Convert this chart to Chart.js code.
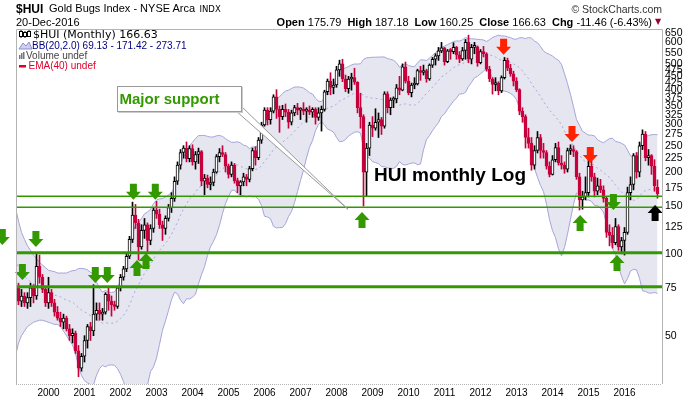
<!DOCTYPE html>
<html lang="en">
<head>
  <meta charset="UTF-8">
  <title>$HUI Gold Bugs Index - Monthly</title>
  <script src="https://cdn.jsdelivr.net/npm/chart.js"></script>
  <style>
    body { margin: 0; background: #fff; }
    #wrap { position: relative; width: 700px; height: 400px; overflow: hidden;
            font-family: "Liberation Sans", Arial, sans-serif; color: #000; }
    #wrap canvas { position: absolute; left: 0; top: 0; }
    .txt { position: absolute; white-space: nowrap; line-height: 1; }
    .b { font-weight: bold; }
    .grp { margin-left: 6px; }
    #supportBox { position: absolute; left: 117px; top: 86px; width: 123px; height: 24px;
                  background: #fff; border: 1px solid #999; box-shadow: 1px 1px 0 #ccc; }
  </style>
</head>
<body>
<div id="wrap">
  <canvas id="hui" width="700" height="400"></canvas>

  <div class="txt b" style="left:16px; top:2.5px; font-size:12px;">$HUI</div>
  <div class="txt" style="left:49px; top:3.2px; font-size:11px;">Gold Bugs Index - NYSE Arca</div>
  <div class="txt" style="left:199.5px; top:5.3px; font-size:8.5px; font-family:'DejaVu Sans';">INDX</div>
  <div class="txt" style="right:38px; top:3.8px; font-size:10.5px; color:#333;">&copy; StockCharts.com</div>
  <div class="txt" style="left:16px; top:16.7px; font-size:11px;">20-Dec-2016</div>
  <div class="txt" style="right:48px; top:16.7px; font-size:11px;"><span class="b">Open</span> 175.79<span class="grp"><span class="b">High</span> 187.18</span><span class="grp"><span class="b">Low</span> 160.25</span><span class="grp"><span class="b">Close</span> 166.63</span><span class="grp"><span class="b">Chg</span> -11.46 (-6.43%)</span></div>
  <div class="txt" style="left:655px; top:18px; font-size:8px; color:#990033; font-family:'DejaVu Sans';">&#9660;</div>

  <div class="txt" style="left:33px; top:29px; font-size:11px; font-family:'DejaVu Sans';">$HUI (Monthly) 166.63</div>
  <div class="txt" style="left:32px; top:40.8px; font-size:10px; color:#000080;">BB(20,2.0) 69.13 - 171.42 - 273.71</div>
  <div class="txt" style="left:26px; top:50.8px; font-size:10px; color:#444;">Volume undef</div>
  <div class="txt" style="left:28.5px; top:61.3px; font-size:10px; color:#e0002a;">EMA(40) undef</div>

  <div id="supportBox"></div>
  <div class="txt b" style="left:119.5px; top:91.3px; font-size:15px; color:#339900;">Major support</div>
  <div class="txt b" style="left:374px; top:164.9px; font-size:19px;">HUI monthly Log</div>
</div>

<script>
  // monthly candles, Feb 1999 .. Dec 2016 (x = months since Jan 1999)
  const opens = [
    67, 76, 67, 70, 66, 69, 75, 70, 90, 82, 74,
    66, 72, 66, 61, 58, 56, 58, 53, 50, 51, 44, 38,
    42, 48, 54, 52, 60, 62, 60, 61, 71, 67, 65, 64,
    75, 82, 88, 98, 113, 139, 130, 106, 122, 128, 112, 124,
    145, 140, 128, 124, 135, 148, 160, 185, 212, 236, 245, 224,
    244, 218, 232, 238, 185, 190, 180, 183, 200, 228, 236, 232,
    210, 196, 212, 186, 178, 184, 192, 188, 206, 240, 226, 262,
    298, 338, 312, 335, 378, 340, 320, 340, 332, 305, 330, 345,
    338, 340, 335, 338, 332, 340, 318, 330, 340, 395, 432, 410,
    418, 475, 500, 440, 405, 440, 445, 428, 345, 320, 200, 245,
    298, 290, 305, 312, 295, 388, 345, 368, 372, 408, 400, 488,
    432, 392, 418, 422, 472, 465, 472, 440, 495, 520, 535, 558,
    573, 510, 558, 555, 575, 540, 522, 560, 600, 520, 575, 578,
    505, 555, 545, 478, 440, 420, 425, 398, 445, 515, 482, 460,
    432, 402, 335, 320, 268, 255, 212, 240, 268, 240, 236, 210,
    196, 222, 246, 216, 212, 205, 240, 242, 238, 192, 158, 162,
    168, 210, 192, 170, 178, 172, 160, 120, 117, 110, 126, 106,
    112, 120, 168, 180, 230, 200, 250, 276, 226, 230, 210, 175.79
  ];
  const highs = [
    78, 78, 74, 72, 72, 78, 77, 101, 99, 84, 76,
    82, 74, 68, 64, 61, 60, 59, 55, 53, 52, 46, 43,
    50, 55, 56, 77, 66, 66, 63, 72, 76, 70, 67, 76,
    84, 90, 100, 116, 155, 152, 134, 128, 135, 130, 128, 148,
    156, 146, 132, 138, 152, 168, 192, 218, 242, 250, 258, 250,
    252, 238, 245, 240, 196, 195, 192, 205, 232, 244, 250, 236,
    214, 218, 215, 190, 186, 198, 196, 210, 245, 248, 268, 305,
    345, 345, 345, 385, 402, 350, 352, 356, 340, 338, 352, 358,
    345, 360, 345, 350, 345, 345, 345, 350, 400, 440, 464, 440,
    490, 516, 520, 455, 450, 462, 482, 430, 390, 325, 255, 305,
    320, 342, 330, 318, 395, 395, 375, 378, 420, 450, 500, 508,
    450, 425, 445, 478, 490, 495, 478, 500, 528, 545, 575, 600,
    575, 565, 570, 598, 580, 555, 575, 615, 638, 590, 600, 582,
    565, 580, 550, 490, 445, 445, 430, 452, 528, 525, 498, 470,
    445, 405, 345, 325, 290, 268, 250, 282, 275, 255, 240, 218,
    230, 255, 258, 230, 218, 245, 252, 250, 240, 198, 170, 192,
    225, 220, 198, 190, 188, 178, 162, 128, 125, 135, 128, 115,
    125, 176, 192, 234, 236, 258, 286, 282, 242, 232, 222, 187.18
  ];
  const lows = [
    61, 65, 64, 64, 63, 64, 66, 68, 78, 72, 64,
    63, 64, 59, 57, 54, 53, 52, 48, 47, 43, 35.3, 37,
    40, 45, 48, 50, 57, 57, 57, 60, 62, 59, 62, 63,
    73, 80, 86, 96, 110, 124, 95, 104, 114, 101, 108, 120,
    135, 124, 112, 118, 132, 142, 156, 180, 205, 225, 218, 218,
    212, 205, 215, 178, 165, 175, 172, 178, 198, 218, 228, 200,
    190, 192, 182, 168, 165, 178, 178, 184, 202, 212, 222, 255,
    295, 298, 300, 330, 315, 280, 312, 320, 290, 298, 322, 325,
    312, 325, 305, 325, 318, 300, 310, 283, 335, 385, 385, 388,
    410, 450, 430, 395, 390, 400, 420, 330, 290, 150, 163, 230,
    270, 285, 268, 275, 290, 330, 325, 345, 360, 385, 398, 425,
    385, 378, 405, 418, 435, 455, 428, 435, 485, 495, 515, 550,
    495, 505, 520, 545, 520, 505, 515, 520, 505, 500, 545, 490,
    500, 530, 470, 430, 387, 398, 385, 392, 440, 472, 450, 415,
    395, 325, 305, 245, 245, 203, 205, 235, 225, 225, 205, 192,
    195, 218, 212, 205, 198, 200, 232, 228, 188, 145, 146, 158,
    162, 185, 162, 165, 168, 155, 115, 107, 105, 108, 103, 100,
    99, 118, 158, 172, 190, 192, 242, 220, 212, 196, 170, 160.25
  ];
  const closes = [
    76, 67, 70, 66, 69, 75, 70, 90, 82, 74, 66,
    72, 66, 61, 58, 56, 58, 53, 50, 51, 44, 38, 42,
    48, 54, 52, 60, 62, 60, 61, 71, 67, 65, 64, 75,
    82, 88, 98, 113, 139, 130, 106, 122, 128, 112, 124, 145,
    140, 128, 124, 135, 148, 160, 185, 212, 236, 245, 224, 244,
    218, 232, 238, 185, 190, 180, 183, 200, 228, 236, 232, 210,
    196, 212, 186, 178, 184, 192, 188, 206, 240, 226, 262, 298,
    338, 312, 335, 378, 340, 320, 340, 332, 305, 330, 345, 338,
    340, 335, 338, 332, 340, 318, 330, 340, 395, 432, 410, 418,
    475, 500, 440, 405, 440, 445, 428, 345, 320, 200, 245, 298,
    290, 305, 312, 295, 388, 345, 368, 372, 408, 400, 488, 432,
    392, 418, 422, 472, 465, 472, 440, 495, 520, 535, 558, 573,
    510, 558, 555, 575, 540, 522, 560, 600, 520, 575, 578, 505,
    555, 545, 478, 440, 420, 425, 398, 445, 515, 482, 460, 432,
    402, 335, 320, 268, 255, 212, 240, 268, 240, 236, 210, 196,
    222, 246, 216, 212, 205, 240, 242, 238, 192, 158, 162, 168,
    210, 192, 170, 178, 172, 160, 120, 117, 110, 126, 106, 112,
    120, 168, 180, 230, 200, 250, 276, 226, 230, 210, 178.09, 166.63
  ];

  // Bollinger band for the first 19 months (needs earlier history)
  const bbUpperStart = [148, 132, 120, 113, 107, 103, 99, 96, 93, 91, 89, 87, 86.5, 86, 85, 85, 85, 85, 86];
  const bbLowerStart = [42, 47, 50, 52, 54, 55, 56, 56.5, 57, 57, 56.5, 56, 55.5, 55, 55, 54, 52, 50, 48];

  const years = [2000, 2001, 2002, 2003, 2004, 2005, 2006, 2007, 2008, 2009, 2010, 2011, 2012, 2013, 2014, 2015, 2016];
  const yTicks = [650, 600, 550, 500, 475, 450, 425, 400, 375, 350, 325, 300, 275, 250, 225, 200, 175, 150, 125, 100, 75, 50];

  // support levels (value, line width)
  const supportLevels = [163, 148.5, 101, 75.6];
  const supportWidths = [1.5, 1.5, 3, 3];

  // arrows: month position, tip value, direction (1 = pointing down), colour
  const arrowPos = [-3.4, 7.8, 3.3, 27.6, 31.6, 40.3, 47.6, 200.3, 41.5, 44.5, 116.5, 189.2, 201.5, 163.7, 186.5, 192.6, 214.2];
  const arrowVal = [107.8, 106, 80.2, 78.2, 78.2, 158, 158, 145, 95, 100.8, 142.6, 139, 99.1, 540, 258, 216, 151.4];
  const arrowDir = [1, 1, 1, 1, 1, 1, 1, 1, -1, -1, -1, -1, -1, 1, 1, 1, -1];
  const arrowCol = ['#339900', '#339900', '#339900', '#339900', '#339900', '#339900', '#339900', '#339900',
                    '#339900', '#339900', '#339900', '#339900', '#339900', '#ff2200', '#ff2200', '#ff2200', '#000'];

  const RED = '#c8003c';
  const xs = closes.map((c, k) => k + 1);

  // BB(20,2)
  const bbUp = [], bbMid = [], bbLo = [];
  closes.forEach((c, k) => {
    if (k < bbUpperStart.length) {
      bbUp.push(bbUpperStart[k]);
      bbLo.push(bbLowerStart[k]);
      bbMid.push((bbUpperStart[k] + bbLowerStart[k]) / 2);
      return;
    }
    const w = closes.slice(k - 19, k + 1);
    const m = w.reduce((a, b) => a + b, 0) / w.length;
    const sd = Math.sqrt(w.reduce((a, b) => a + (b - m) * (b - m), 0) / w.length);
    bbMid.push(m); bbUp.push(m + 2 * sd); bbLo.push(m - 2 * sd);
  });

  const up = closes.map((c, k) => c >= opens[k]);

  function drawArrow(ctx, x, tip, dir, color) {
    const hw = 7.5, sw = 3.5, hh = 8, len = 16;
    ctx.beginPath();
    ctx.moveTo(x, tip);
    ctx.lineTo(x - hw, tip - dir * hh);
    ctx.lineTo(x - sw, tip - dir * hh);
    ctx.lineTo(x - sw, tip - dir * len);
    ctx.lineTo(x + sw, tip - dir * len);
    ctx.lineTo(x + sw, tip - dir * hh);
    ctx.lineTo(x + hw, tip - dir * hh);
    ctx.closePath();
    ctx.fillStyle = color;
    ctx.fill();
  }

  const overlay = {
    id: 'overlay',
    afterDatasetsDraw(chart) {
      const { ctx, chartArea: a, scales: { x, y } } = chart;
      ctx.save();
      // support lines
      supportLevels.forEach((v, k) => {
        const py = y.getPixelForValue(v);
        ctx.strokeStyle = '#339900';
        ctx.lineWidth = supportWidths[k];
        ctx.beginPath();
        ctx.moveTo(a.left, py);
        ctx.lineTo(a.right, py);
        ctx.stroke();
      });
      // callout wedge of the "Major support" box
      const tx = x.getPixelForValue(111.8), ty = y.getPixelForValue(146);
      ctx.beginPath();
      ctx.moveTo(236, 111);
      ctx.lineTo(241, 106);
      ctx.lineTo(tx, ty);
      ctx.closePath();
      ctx.fillStyle = '#fff';
      ctx.fill();
      ctx.strokeStyle = '#999';
      ctx.lineWidth = 1;
      ctx.stroke();
      // arrows
      arrowPos.forEach((p, k) => {
        drawArrow(ctx, x.getPixelForValue(p), y.getPixelForValue(arrowVal[k]), arrowDir[k], arrowCol[k]);
      });
      ctx.restore();
    },
    afterDraw(chart) {
      const { ctx, chartArea: a } = chart;
      ctx.save();
      ctx.strokeStyle = '#b4b4b4';
      ctx.lineWidth = 1;
      ctx.beginPath();
      ctx.moveTo(a.left + 0.5, a.bottom);
      ctx.lineTo(a.left + 0.5, a.top + 0.5);
      ctx.lineTo(a.right + 0.5, a.top + 0.5);
      ctx.lineTo(a.right + 0.5, a.bottom);
      ctx.stroke();
      ctx.setLineDash([1, 1]);
      ctx.beginPath();
      ctx.moveTo(a.left, a.bottom + 0.5);
      ctx.lineTo(a.right, a.bottom + 0.5);
      ctx.stroke();
      ctx.setLineDash([]);
      // legend icons
      ctx.strokeStyle = '#000';
      ctx.fillStyle = '#fff';
      [[20, 32, 5, 30, 38], [24, 33, 4, 31, 38], [28, 32, 5, 30, 37]].forEach(c => {
        ctx.beginPath(); ctx.moveTo(c[0] + 1, c[3]); ctx.lineTo(c[0] + 1, c[4]); ctx.stroke();
        ctx.fillRect(c[0], c[1], 2, c[2]);
        ctx.strokeRect(c[0] - 0.5, c[1] - 0.5, 3, c[2]);
      });
      ctx.beginPath();
      ctx.moveTo(19, 49); ctx.lineTo(23, 43); ctx.lineTo(26, 46); ctx.lineTo(29, 42); ctx.lineTo(32, 49);
      ctx.closePath();
      ctx.fillStyle = '#cfcfee'; ctx.fill();
      ctx.strokeStyle = '#8c8cd0'; ctx.stroke();
      ctx.fillStyle = '#777';
      ctx.fillRect(19, 55, 1.5, 4); ctx.fillRect(21, 53, 1.5, 6); ctx.fillRect(23, 52, 1.5, 7);
      ctx.fillStyle = '#e0002a';
      ctx.fillRect(19, 65, 7, 2.5);
      ctx.restore();
    }
  };

  new Chart(document.getElementById('hui'), {
    type: 'bar',
    data: {
      datasets: [
        {
          type: 'line', label: 'BB upper', order: 4,
          data: xs.map((x, k) => ({ x, y: bbUp[k] })),
          borderColor: '#a4a4da', borderWidth: 1, pointRadius: 0,
          fill: '+1', backgroundColor: '#e6e6f1'
        },
        {
          type: 'line', label: 'BB lower', order: 3,
          data: xs.map((x, k) => ({ x, y: bbLo[k] })),
          borderColor: '#a4a4da', borderWidth: 1, pointRadius: 0, fill: false
        },
        {
          type: 'line', label: 'BB mid', order: 2,
          data: xs.map((x, k) => ({ x, y: bbMid[k] })),
          borderColor: '#a8a8dc', borderWidth: 1, borderDash: [2, 3], pointRadius: 0, fill: false
        },
        {
          label: 'wicks', order: 1, grouped: false,
          data: xs.map((x, k) => ({ x, y: [lows[k], highs[k]] })),
          backgroundColor: up.map(u => u ? '#000' : RED),
          barThickness: 1, borderWidth: 0
        },
        {
          label: 'bodies', order: 0, grouped: false,
          data: xs.map((x, k) => ({ x, y: [opens[k], closes[k]] })),
          backgroundColor: up.map(u => u ? '#fff' : RED),
          borderColor: up.map(u => u ? '#000' : RED),
          borderWidth: 1, borderSkipped: false, barThickness: 3, minBarLength: 2
        }
      ]
    },
    options: {
      responsive: false,
      animation: false,
      events: [],
      layout: { padding: { left: 16, top: 29, right: 0, bottom: 0 } },
      plugins: { legend: { display: false }, tooltip: { enabled: false } },
      scales: {
        x: {
          type: 'linear', offset: false, min: 7 / 6, max: 216.5,
          grid: { display: false, drawTicks: false }, border: { display: false },
          afterBuildTicks: s => { s.ticks = years.map(yv => ({ value: (yv - 1999) * 12 })); },
          afterFit: s => { s.height = 16; },
          ticks: {
            autoSkip: false, maxRotation: 0, padding: 3, color: '#000',
            font: { family: '"Liberation Sans", Arial, sans-serif', size: 10 },
            callback: v => String(1999 + v / 12)
          }
        },
        y: {
          type: 'logarithmic', position: 'right', min: 33.2, max: 672,
          grid: { display: false, drawTicks: false }, border: { display: false },
          afterBuildTicks: s => { s.ticks = yTicks.map(v => ({ value: v })); },
          afterFit: s => { s.width = 38; },
          ticks: {
            autoSkip: false, padding: 3, color: '#000',
            font: { family: '"Liberation Sans", Arial, sans-serif', size: 10.5 },
            callback: v => String(v)
          }
        }
      }
    },
    plugins: [overlay]
  });
</script>
</body>
</html>
